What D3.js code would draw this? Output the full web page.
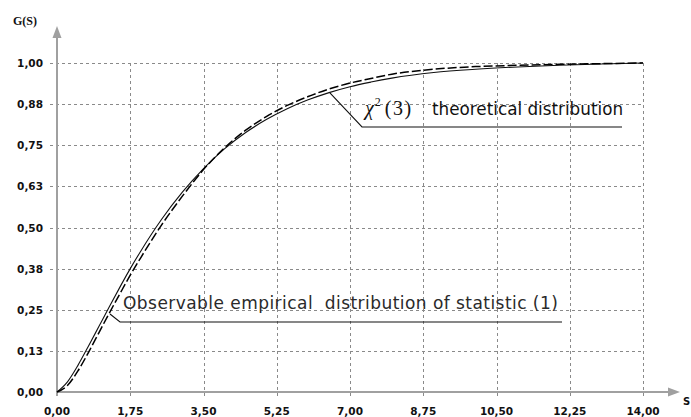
<!DOCTYPE html>
<html><head><meta charset="utf-8">
<script src="https://cdn.jsdelivr.net/npm/d3@7"></script>
<style>html,body{margin:0;padding:0;background:#fff;overflow:hidden}</style>
</head><body>
<svg id="c" width="691" height="417"></svg>
<script>
// ---- data ----
const sValues = [0, 0.25, 0.5, 0.75, 1, 1.25, 1.5, 1.75, 2, 2.5, 3, 3.5, 4, 4.5, 5, 5.5, 6, 6.5, 7, 7.5, 8, 9, 10, 11, 12, 13, 14];
const theoretical = [0, 0.031, 0.081, 0.139, 0.199, 0.259, 0.318, 0.375, 0.428, 0.525, 0.608, 0.679, 0.739, 0.788, 0.828, 0.861, 0.888, 0.910, 0.928, 0.942, 0.954, 0.971, 0.981, 0.988, 0.993, 0.997, 1.000];
const empirical   = [0, 0.020, 0.064, 0.120, 0.180, 0.240, 0.298, 0.355, 0.408, 0.508, 0.596, 0.676, 0.742, 0.795, 0.837, 0.871, 0.898, 0.921, 0.939, 0.953, 0.966, 0.981, 0.989, 0.993, 0.996, 0.998, 1.000];
const xTicks = [0, 1.75, 3.5, 5.25, 7, 8.75, 10.5, 12.25, 14];
const xTickLabels = ["0,00", "1,75", "3,50", "5,25", "7,00", "8,75", "10,50", "12,25", "14,00"];
const yTicks = [0, 0.125, 0.25, 0.375, 0.5, 0.625, 0.75, 0.875, 1];
const yTickLabels = ["0,00", "0,13", "0,25", "0,38", "0,50", "0,63", "0,75", "0,88", "1,00"];
const yTitle = "G(S)";
const xTitle = "S";
const empiricalLabel = "Observable empirical\u00a0 distribution of statistic (1)";
const theoreticalLabel = "theoretical distribution";

// ---- layout ----
const svg = d3.select("#c");
const x = d3.scaleLinear().domain([0, 14]).range([57, 643]);
const y = d3.scaleLinear().domain([0, 1]).range([392, 63]);
const gridColor = "#8a8a8a", axisColor = "#a0a0a0";
const tickFont = "'DejaVu Sans', Verdana, sans-serif";

// grid
const grid = svg.append("g");
grid.selectAll("line.h").data(yTicks.slice(1)).join("line")
  .attr("x1", 50).attr("x2", x(14))
  .attr("y1", d => Math.round(y(d)) + 0.5).attr("y2", d => Math.round(y(d)) + 0.5)
  .attr("stroke", gridColor).attr("stroke-width", 1).attr("stroke-dasharray", "3,3");
grid.selectAll("line.v").data(xTicks.slice(1)).join("line")
  .attr("x1", d => Math.round(x(d)) + 0.5).attr("x2", d => Math.round(x(d)) + 0.5)
  .attr("y1", y(1)).attr("y2", y(0) + 6)
  .attr("stroke", gridColor).attr("stroke-width", 1).attr("stroke-dasharray", "3,3");

// axes
svg.append("line").attr("x1", x(0)).attr("x2", 670).attr("y1", y(0)).attr("y2", y(0))
  .attr("stroke", axisColor).attr("stroke-width", 2);
svg.append("path").attr("d", `M680,${y(0)} L668,${y(0)-4.5} L668,${y(0)+4.5} Z`).attr("fill", axisColor);
svg.append("line").attr("x1", x(0)).attr("x2", x(0)).attr("y1", y(0) + 4).attr("y2", 35)
  .attr("stroke", axisColor).attr("stroke-width", 2);
svg.append("path").attr("d", `M${x(0)},26 L${x(0)-4.5},38 L${x(0)+4.5},38 Z`).attr("fill", axisColor);

// tick labels
svg.append("g").selectAll("text").data(yTicks).join("text")
  .attr("x", 43).attr("y", d => y(d) + 4)
  .attr("text-anchor", "end").attr("font-family", tickFont).attr("font-weight", "bold")
  .attr("font-size", 10.5).attr("fill", "#111")
  .text((d, i) => yTickLabels[i]);
svg.append("g").selectAll("text").data(xTicks).join("text")
  .attr("x", d => x(d)).attr("y", 415)
  .attr("text-anchor", "middle").attr("font-family", tickFont).attr("font-weight", "bold")
  .attr("font-size", 10.5).attr("fill", "#111")
  .text((d, i) => xTickLabels[i]);

svg.append("text").attr("x", 13).attr("y", 25).attr("font-family", "'Liberation Serif', serif")
  .attr("font-weight", "bold").attr("font-size", 12).attr("fill", "#111").text(yTitle);
svg.append("text").attr("x", 683).attr("y", 405).attr("font-family", tickFont)
  .attr("font-weight", "bold").attr("font-size", 10).attr("fill", "#111").text(xTitle);

// curves
const line = d3.line().x(d => x(d[0])).y(d => y(d[1])).curve(d3.curveMonotoneX);
svg.append("path").datum(sValues.map((s, i) => [s, theoretical[i]]))
  .attr("d", line).attr("fill", "none").attr("stroke", "#111").attr("stroke-width", 1.1);
svg.append("path").datum(sValues.map((s, i) => [s, empirical[i]]))
  .attr("d", line).attr("fill", "none").attr("stroke", "#000").attr("stroke-width", 1.5)
  .attr("stroke-dasharray", "9,3");

// annotation: theoretical
const tTip = [x(6.52), y(0.909)];
svg.append("path").attr("d", `M${tTip[0]},${tTip[1]} L362,127 L622,127`)
  .attr("fill", "none").attr("stroke", "#111").attr("stroke-width", 1.1);
const tt = svg.append("text").attr("x", 365).attr("y", 115).attr("fill", "#111");
tt.append("tspan").attr("font-family", "'Liberation Serif', serif").attr("font-style", "italic")
  .attr("font-size", 20).text("\u03c7");
tt.append("tspan").attr("font-family", "'Liberation Serif', serif").attr("font-size", 12)
  .attr("dy", -9).attr("dx", 1).text("2");
tt.append("tspan").attr("font-family", "'Liberation Serif', serif").attr("font-size", 20)
  .attr("dy", 9).attr("dx", 4).attr("letter-spacing", 1.5).text("(3)");
svg.append("text").attr("x", 432).attr("y", 115).attr("font-family", tickFont)
  .attr("font-size", 16.8).attr("fill", "#111").text(theoreticalLabel);

// annotation: empirical
const eTip = [x(1.266), y(0.237)];
svg.append("path").attr("d", `M${eTip[0]},${eTip[1]} L120,322 L562,322`)
  .attr("fill", "none").attr("stroke", "#111").attr("stroke-width", 1.1);
svg.append("text").attr("x", 123).attr("y", 309).attr("font-family", tickFont)
  .attr("font-size", 17).attr("letter-spacing", 0.45).attr("fill", "#2a2a2a").text(empiricalLabel);
</script>
</body></html>
